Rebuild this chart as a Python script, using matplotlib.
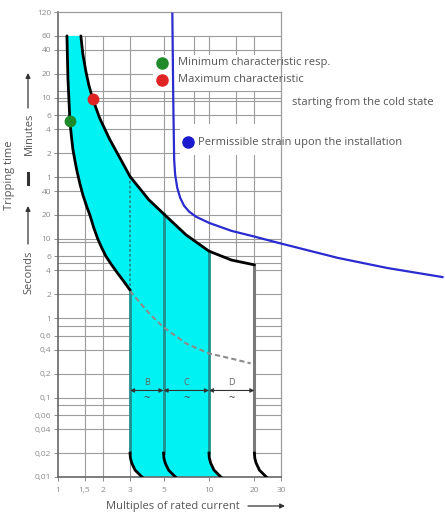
import matplotlib
matplotlib.use('Agg')
import matplotlib.pyplot as plt
from matplotlib.patches import Rectangle, Polygon
from matplotlib.ticker import NullLocator, FixedLocator, FixedFormatter

plt.rcParams['font.family'] = ['Open Sans', 'DejaVu Sans']

# ---------------- data ----------------
x_ticks = [1, 1.5, 2, 3, 5, 10, 20, 30]
x_ticklabels = ['1', '1,5', '2', '3', '5', '10', '20', '30']
x_grid = [1.5, 2, 3, 5, 8, 10, 15, 20]

# tripping time in seconds (minutes part converted to seconds)
y_ticks = [7200, 3600, 2400, 1200, 600, 360, 240, 120, 60,
           40, 20, 10, 6, 4, 2, 1, 0.6, 0.4, 0.2, 0.1, 0.06, 0.04, 0.02, 0.01]
y_ticklabels = ['120', '60', '40', '20', '10', '6', '4', '2', '1',
                '40', '20', '10', '6', '4', '2', '1', '0,6', '0,4', '0,2', '0,1',
                '0,06', '0,04', '0,02', '0,01']
y_grid_extra = [720, 540, 9, 5, 0.8, 0.08]

# minimum characteristic (multiples of In, seconds)
min_x = [1.146, 1.155, 1.164, 1.181, 1.199, 1.227, 1.255, 1.294, 1.334, 1.396, 1.46,
         1.551, 1.624, 1.725, 1.833, 1.948, 2.07, 2.265, 2.48, 2.716, 3.0]
min_t = [3600, 1845, 1030, 575, 303, 195, 134, 97, 72, 49.6, 36,
         25.4, 20.1, 13.8, 10, 7.7, 6.1, 4.7, 3.7, 2.94, 2.26]

# maximum characteristic
max_x = [1.417, 1.46, 1.528, 1.60, 1.70, 1.89, 2.2, 2.56, 3.0, 4.0, 5.0, 7.06, 10, 14.1, 20]
max_t = [3600, 2134, 1300, 864, 575, 330, 179, 106, 61, 31, 20.7, 11.2, 7.0, 5.4, 4.7]

# permissible strain upon the installation
blue_x = [5.72, 5.80, 5.88, 5.97, 6.16, 6.44, 6.84, 7.39, 8.21, 10, 14.1, 20.3, 28.8, 71.5, 152, 352]
blue_t = [6840, 575, 100, 64.6, 44.2, 33, 26.1, 22, 19, 15.9, 12.6, 10.6, 8.9, 5.75, 4.29, 3.3]

# dashed continuation of minimum characteristic
dash_x = [3.0, 4.0, 5.0, 7.06, 10, 14.1, 18.9]
dash_t = [2.2, 1.16, 0.77, 0.48, 0.36, 0.31, 0.27]

# instantaneous trip foot (relative multiple vs time)
foot_t = [0.02, 0.0173, 0.015, 0.0122, 0.0112, 0.01]
foot_ratio = [1.0, 1.006, 1.026, 1.08, 1.13, 1.2]

class_bounds = [3, 5, 10, 20]
class_names = ['B', 'C', 'D']
class_arrow_t = 0.123

min_point = (1.2, 303)
max_point = (1.70, 575)

legend_labels = ['Minimum characteristic resp.', 'Maximum characteristic',
                 'starting from the cold state', 'Permissible strain upon the installation']

# ---------------- figure ----------------
W, H = 445, 517
fig = plt.figure(figsize=(W / 100, H / 100), dpi=100)
ax = fig.add_axes([58 / W, 40 / H, 223 / W, 465 / H])
ax.set_xscale('log')
ax.set_yscale('log')


def fx(px):
    return px / W


def fy(py):
    return 1 - py / H


CYAN = '#00f2f2'
TEAL = '#1f8f8f'
GRID = '#9c9c9c'
TXT = '#555555'

# grid
for y in y_ticks[1:-1] + y_grid_extra:
    ax.axhline(y, color=GRID, lw=0.8, zorder=0.5)
for x in x_grid:
    ax.plot([x, x], [y_ticks[-1], y_ticks[1]], color=GRID, lw=0.8, zorder=0.5)

# cyan band
verts = list(zip(min_x, min_t))
verts += [(class_bounds[0] * r, t) for r, t in zip(foot_ratio, foot_t)]
verts += [(class_bounds[2] * r, t) for r, t in reversed(list(zip(foot_ratio, foot_t)))]
i10 = max_x.index(class_bounds[2])
verts += [(max_x[i], max_t[i]) for i in range(i10, -1, -1)]
ax.add_patch(Polygon(verts, closed=True, fc=CYAN, ec='none', zorder=1))

# white D region
i20 = max_x.index(class_bounds[3])
dverts = [(max_x[i], max_t[i]) for i in range(i10, i20 + 1)]
dverts += [(class_bounds[3] * r, t) for r, t in zip(foot_ratio, foot_t)]
dverts += [(class_bounds[2] * r, t) for r, t in reversed(list(zip(foot_ratio, foot_t)))]
ax.add_patch(Polygon(dverts, closed=True, fc='white', ec='none', zorder=1))

# characteristic curves
ax.plot(min_x, min_t, color='black', lw=2, zorder=4, solid_capstyle='round', solid_joinstyle='round')
ax.plot(max_x, max_t, color='black', lw=2, zorder=4, solid_capstyle='round', solid_joinstyle='round')

t_at = dict(zip(max_x, max_t))
ax.plot([class_bounds[0]] * 2, [min_t[-1], foot_t[0]], color=TEAL, lw=2, zorder=3)
ax.plot([class_bounds[0]] * 2, [t_at[class_bounds[0]], min_t[-1]], color=TEAL, lw=1.3,
        ls=(0, (1.5, 1.2)), zorder=3)
for b in class_bounds[1:3]:
    ax.plot([b, b], [t_at[b], foot_t[0]], color=TEAL, lw=2, zorder=3)
ax.plot([class_bounds[3]] * 2, [t_at[class_bounds[3]], foot_t[0]], color='#7a7a7a', lw=2.2, zorder=3)
for b in class_bounds:
    ax.plot([b * r for r in foot_ratio], foot_t, color='black', lw=2, zorder=4, solid_joinstyle='round')

# dashed grey
ax.plot(dash_x, dash_t, color='#8c8c8c', lw=1.5, ls=(0, (2.5, 1.5)), zorder=3)

# class arrows
for i, name in enumerate(class_names):
    a, b = class_bounds[i], class_bounds[i + 1]
    ax.annotate('', xy=(a, class_arrow_t), xytext=(b, class_arrow_t),
                arrowprops=dict(arrowstyle='<|-|>', color='#333333', lw=0.8,
                                mutation_scale=6, shrinkA=0, shrinkB=0), zorder=5)
    xm = (a * b) ** 0.5
    ax.text(xm, class_arrow_t * 1.12, name, ha='center', va='bottom', fontsize=6.5, color='#666666', zorder=5)
    ax.text(xm, class_arrow_t * 0.93, '~', ha='center', va='top', fontsize=8, color='#444444', zorder=5)

# white boxes behind legend texts
ax.add_patch(Rectangle((fx(153), fy(91)), (340 - 153) / W, (91 - 55) / H, transform=fig.transFigure,
                       fc='white', ec='none', zorder=2, clip_on=False))
ax.add_patch(Rectangle((fx(180), fy(155)), (410 - 180) / W, (155 - 124) / H, transform=fig.transFigure,
                       fc='white', ec='none', zorder=2, clip_on=False))

# blue permissible strain curve
ax.plot(blue_x, blue_t, color='#2b2bd0', lw=1.6, zorder=5, clip_on=False, solid_joinstyle='round')

# points on curves
ax.plot(*min_point, 'o', color='#1f8a2a', ms=7.5, zorder=6)
ax.plot(*max_point, 'o', color='#e02424', ms=7.5, zorder=6)

# legend
ax.plot(fx(162), fy(63), 'o', color='#1f8a2a', ms=8, transform=fig.transFigure, clip_on=False, zorder=6)
ax.plot(fx(162), fy(80), 'o', color='#e02424', ms=8, transform=fig.transFigure, clip_on=False, zorder=6)
ax.plot(fx(188), fy(142), 'o', color='#1a1acc', ms=8, transform=fig.transFigure, clip_on=False, zorder=6)
fs = 8
ax.text(fx(178), fy(63), legend_labels[0], transform=fig.transFigure, fontsize=fs, color=TXT, va='center', zorder=6)
ax.text(fx(178), fy(80), legend_labels[1], transform=fig.transFigure, fontsize=fs, color=TXT, va='center', zorder=6)
ax.text(fx(292), fy(102), legend_labels[2], transform=fig.transFigure, fontsize=fs, color=TXT, va='center', zorder=6)
ax.text(fx(198), fy(142), legend_labels[3], transform=fig.transFigure, fontsize=fs, color=TXT, va='center', zorder=6)

# axes styling
ax.xaxis.set_minor_locator(NullLocator())
ax.yaxis.set_minor_locator(NullLocator())
ax.xaxis.set_major_locator(FixedLocator(x_ticks))
ax.xaxis.set_major_formatter(FixedFormatter(x_ticklabels))
ax.yaxis.set_major_locator(FixedLocator(y_ticks))
ax.yaxis.set_major_formatter(FixedFormatter(y_ticklabels))
ax.tick_params(axis='both', which='major', labelsize=6, colors='#8a8a8a', length=3, width=0.7, pad=2)
ax.tick_params(axis='x', pad=4)
for s in ['left', 'bottom']:
    ax.spines[s].set_color('#666666')
    ax.spines[s].set_linewidth(1.2)
for s in ['top', 'right']:
    ax.spines[s].set_color(GRID)
    ax.spines[s].set_linewidth(0.9)
ax.set_xlim(1, 30)
ax.set_ylim(0.01, 7200)

# axis titles
fig.text(fx(10), fy(175), 'Tripping time', rotation=90, ha='center', va='center', fontsize=8, color=TXT)
fig.text(fx(29), fy(134), 'Minutes', rotation=90, ha='center', va='center', fontsize=8, color=TXT)
fig.text(fx(29), fy(272), 'Seconds', rotation=90, ha='center', va='center', fontsize=8, color=TXT)
fig.text(fx(173), fy(506), 'Multiples of rated current', ha='center', va='center', fontsize=8, color=TXT)
arrow_kw = dict(arrowstyle='-|>', color='#333333', lw=0.9, mutation_scale=7, shrinkA=0, shrinkB=0)
ax.annotate('', xy=(fx(28), fy(73)), xytext=(fx(28), fy(108)), xycoords='figure fraction',
            textcoords='figure fraction', arrowprops=arrow_kw, annotation_clip=False)
ax.annotate('', xy=(fx(28), fy(206)), xytext=(fx(28), fy(244)), xycoords='figure fraction',
            textcoords='figure fraction', arrowprops=arrow_kw, annotation_clip=False)
ax.annotate('', xy=(fx(285), fy(506)), xytext=(fx(248), fy(506)), xycoords='figure fraction',
            textcoords='figure fraction', arrowprops=arrow_kw, annotation_clip=False)
ax.plot([fx(28), fx(28)], [fy(173), fy(184)], transform=fig.transFigure, color='#333333', lw=2.2,
        clip_on=False)

fig.savefig('out.png', dpi=100, facecolor='white')
